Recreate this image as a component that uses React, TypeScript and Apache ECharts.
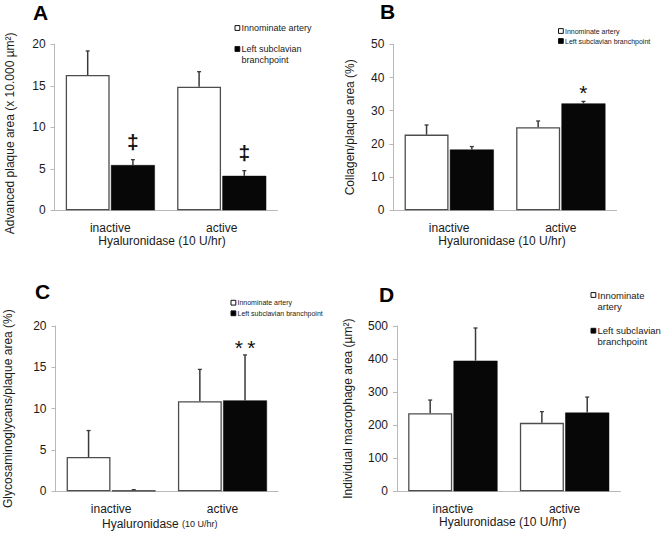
import React, { useEffect, useRef } from "react";
import * as echarts from "echarts";

const categories = ["inactive", "active"];
const seriesNames = ["Innominate artery", "Left subclavian branchpoint"];

// Panel A: Advanced plaque area (x 10.000 µm²)
const aInnominate = [16.3, 14.9];
const aInnominateErr = [2.9, 1.8];
const aLeftSub = [5.45, 4.15];
const aLeftSubErr = [0.65, 0.63];
const aMarks = [[0, 1, 8.4], [1, 1, 7.05]];
const aMarkText = ["‡", "‡"];

// Panel B: Collagen/plaque area (%)
const bInnominate = [22.8, 25.0];
const bInnominateErr = [2.9, 1.9];
const bLeftSub = [18.3, 32.2];
const bLeftSubErr = [0.9, 0.6];
const bMarks = [[1, 1, 37.0]];
const bMarkText = ["*"];

// Panel C: Glycosaminoglycans/plaque area (%)
const cInnominate = [4.15, 10.9];
const cInnominateErr = [3.2, 3.85];
const cLeftSub = [0.1, 11.0];
const cLeftSubErr = [0.1, 5.5];
const cMarks = [[1, 1, 18.0]];
const cMarkText = ["*\u2009*"];

// Panel D: Individual macrophage area (µm²)
const dInnominate = [236, 207];
const dInnominateErr = [40, 34];
const dLeftSub = [395, 238];
const dLeftSubErr = [99, 47];

const FONT = "'Liberation Sans', Arial, Helvetica, sans-serif";
const CAT_GAP = 0.2;
const BAR_GAP = 0.03;
const AXIS_COLOR = "#b8b8b8";
const TEXT_COLOR = "#1a1a1a";

function barOffset(bandWidth: number, barIdx: number) {
  const bw = (bandWidth * (1 - CAT_GAP)) / (2 + BAR_GAP);
  const off = (bw * (1 + BAR_GAP)) / 2;
  return barIdx === 0 ? -off : off;
}

type Panel = {
  grid: { left: number; top: number; width: number; height: number };
  yName: string;
  yNameGap: number;
  yNamePad: number[];
  max: number;
  interval: number;
  white: number[];
  whiteErr: number[];
  black: number[];
  blackErr: number[];
  marks: number[][];
  markText: string[];
  markSize: number;
  markBold: boolean;
  markDy: number;
  xName: string;
  xNamePad: number[];
  xNameGap: number;
};

const panels: Panel[] = [
  {
    grid: { left: 54.6, top: 44.3, width: 222.8, height: 166 },
    yName: "Advanced plaque area (x 10.000 µm²)",
    yNameGap: 39,
    yNamePad: [0, 12, 0, 0],
    max: 20,
    interval: 5,
    white: aInnominate,
    whiteErr: aInnominateErr,
    black: aLeftSub,
    blackErr: aLeftSubErr,
    marks: aMarks,
    markText: aMarkText,
    markSize: 21,
    markBold: true,
    markDy: 1,
    xName: "Hyaluronidase (10 U/hr)",
    xNamePad: [0, 8, 0, 0],
    xNameGap: 23,
  },
  {
    grid: { left: 393.4, top: 44.3, width: 223.2, height: 166 },
    yName: "Collagen/plaque area (%)",
    yNameGap: 37,
    yNamePad: [0, 0, 0, 0],
    max: 50,
    interval: 10,
    white: bInnominate,
    whiteErr: bInnominateErr,
    black: bLeftSub,
    blackErr: bLeftSubErr,
    marks: bMarks,
    markText: bMarkText,
    markSize: 21,
    markBold: false,
    markDy: 4.6,
    xName: "Hyaluronidase (10 U/hr)",
    xNamePad: [0, 6, 0, 0],
    xNameGap: 24,
  },
  {
    grid: { left: 55.5, top: 326, width: 222.6, height: 165.3 },
    yName: "Glycosaminoglycans/plaque area (%)",
    yNameGap: 42,
    yNamePad: [0, 0, 0, 0],
    max: 20,
    interval: 5,
    white: cInnominate,
    whiteErr: cInnominateErr,
    black: cLeftSub,
    blackErr: cLeftSubErr,
    marks: cMarks,
    markText: cMarkText,
    markSize: 21,
    markBold: false,
    markDy: 4.6,
    xName: "{a|Hyaluronidase} {b|(10 U/hr)}",
    xNamePad: [0, 14, 0, 0],
    xNameGap: 27,
  },
  {
    grid: { left: 397, top: 326, width: 223.4, height: 165.3 },
    yName: "Individual macrophage area (µm²)",
    yNameGap: 43,
    yNamePad: [0, 0, 0, 0],
    max: 500,
    interval: 100,
    white: dInnominate,
    whiteErr: dInnominateErr,
    black: dLeftSub,
    blackErr: dLeftSubErr,
    marks: [],
    markText: [],
    markSize: 17,
    markBold: false,
    markDy: 0,
    xName: "Hyaluronidase (10 U/hr)",
    xNamePad: [0, 12, 0, 0],
    xNameGap: 24,
  },
];

function legendItems(
  x: number,
  fontSize: number,
  items: { y: number; fill: string; lines: string[]; lineH: number }[]
) {
  const out: any[] = [];
  items.forEach((it) => {
    out.push({
      type: "rect",
      shape: { x: x, y: it.y - 2.4, width: 4.8, height: 4.8 },
      style: { fill: it.fill, stroke: "#111", lineWidth: 1 },
      silent: true,
    });
    it.lines.forEach((ln, i) => {
      out.push({
        type: "text",
        x: x + 6.5,
        y: it.y + i * it.lineH,
        style: {
          text: ln,
          fontSize,
          fontFamily: FONT,
          fill: TEXT_COLOR,
          align: "left",
          verticalAlign: "middle",
          textAlign: "left",
          textVerticalAlign: "middle",
        },
        silent: true,
      });
    });
  });
  return out;
}

function titleText(t: string, x: number, y: number) {
  return {
    type: "text",
    x,
    y,
    style: {
      text: t,
      fontSize: 21,
      fontWeight: "bold",
      fontFamily: FONT,
      fill: "#000",
      align: "left",
      verticalAlign: "middle",
      textAlign: "left",
      textVerticalAlign: "middle",
    },
    silent: true,
  };
}

export default function App() {
  const ref = useRef<HTMLDivElement>(null);

  useEffect(() => {
    if (!ref.current) return;
    const chart = echarts.init(ref.current, undefined, { renderer: "svg" });

    const grids: any[] = [];
    const xAxes: any[] = [];
    const yAxes: any[] = [];
    const series: any[] = [];

    panels.forEach((p, i) => {
      grids.push({ ...p.grid, containLabel: false });
      xAxes.push({
        type: "category",
        gridIndex: i,
        data: categories,
        axisLine: { show: true, lineStyle: { color: AXIS_COLOR, width: 1 } },
        axisTick: { show: false },
        axisLabel: { color: TEXT_COLOR, fontSize: 12, fontFamily: FONT, margin: 12 },
        name: p.xName,
        nameLocation: "middle",
        nameGap: p.xNameGap,
        nameTextStyle: {
          color: TEXT_COLOR,
          fontSize: 12,
          fontFamily: FONT,
          padding: p.xNamePad,
          rich: {
            a: { fontSize: 12, fontFamily: FONT, color: TEXT_COLOR },
            b: { fontSize: 9, fontFamily: FONT, color: TEXT_COLOR },
          },
        },
      });
      yAxes.push({
        type: "value",
        gridIndex: i,
        min: 0,
        max: p.max,
        interval: p.interval,
        axisLine: { show: true, lineStyle: { color: AXIS_COLOR, width: 1 } },
        axisTick: { show: true, inside: false, length: 4, lineStyle: { color: AXIS_COLOR } },
        splitLine: { show: false },
        axisLabel: { color: TEXT_COLOR, fontSize: 12, fontFamily: FONT, margin: 9 },
        name: p.yName,
        nameLocation: "middle",
        nameGap: p.yNameGap,
        nameTextStyle: {
          color: TEXT_COLOR,
          fontSize: 12,
          fontFamily: FONT,
          padding: p.yNamePad,
        },
      });

      series.push({
        type: "bar",
        name: seriesNames[0],
        xAxisIndex: i,
        yAxisIndex: i,
        data: p.white,
        barCategoryGap: CAT_GAP * 100 + "%",
        barGap: BAR_GAP * 100 + "%",
        itemStyle: { color: "#ffffff", borderColor: "#4d4d4d", borderWidth: 1.3 },
        z: 2,
      });
      series.push({
        type: "bar",
        name: seriesNames[1],
        xAxisIndex: i,
        yAxisIndex: i,
        data: p.black,
        barCategoryGap: CAT_GAP * 100 + "%",
        barGap: BAR_GAP * 100 + "%",
        itemStyle: { color: "#070707", borderColor: "#070707", borderWidth: 0.5 },
        z: 2,
      });

      const errData: number[][] = [];
      p.white.forEach((v, k) => errData.push([k, 0, v, p.whiteErr[k]]));
      p.black.forEach((v, k) => errData.push([k, 1, v, p.blackErr[k]]));
      series.push({
        type: "custom",
        name: "err" + i,
        xAxisIndex: i,
        yAxisIndex: i,
        data: errData,
        encode: { x: 0, y: 2 },
        z: 4,
        silent: true,
        renderItem: (params: any, api: any) => {
          const cat = api.value(0);
          const bi = api.value(1);
          const v = api.value(2);
          const e = api.value(3);
          const base = api.coord([cat, v]);
          const top = api.coord([cat, v + e]);
          const band = api.size([1, 0])[0];
          const x = base[0] + barOffset(band, bi);
          return {
            type: "group",
            children: [
              {
                type: "line",
                shape: { x1: x, y1: base[1], x2: x, y2: top[1] },
                style: { stroke: "#3a3a3a", lineWidth: 1.5 },
              },
              {
                type: "line",
                shape: { x1: x - 2, y1: top[1], x2: x + 2, y2: top[1] },
                style: { stroke: "#3a3a3a", lineWidth: 1.3 },
              },
            ],
          };
        },
      });

      if (p.marks.length) {
        series.push({
          type: "custom",
          name: "mark" + i,
          xAxisIndex: i,
          yAxisIndex: i,
          data: p.marks,
          encode: { x: 0, y: 2 },
          z: 5,
          silent: true,
          renderItem: (params: any, api: any) => {
            const cat = api.value(0);
            const bi = api.value(1);
            const y = api.value(2);
            const pt = api.coord([cat, y]);
            const band = api.size([1, 0])[0];
            return {
              type: "text",
              x: pt[0] + barOffset(band, bi),
              y: pt[1] + p.markDy,
              style: {
                text: p.markText[params.dataIndex],
                fontSize: p.markSize,
                fontWeight: p.markBold ? "bold" : "normal",
                fontFamily: FONT,
                fill: "#111",
                align: "center",
                verticalAlign: "middle",
              },
            };
          },
        });
      }
    });

    const graphic: any[] = [
      titleText("A", 33, 12.5),
      titleText("B", 380, 11.5),
      titleText("C", 35, 291.5),
      titleText("D", 379, 294.5),
      ...legendItems(235, 9, [
        { y: 28, fill: "#fff", lines: ["Innominate artery"], lineH: 10 },
        { y: 49, fill: "#000", lines: ["Left subclavian", "branchpoint"], lineH: 10.5 },
      ]),
      ...legendItems(558.5, 7, [
        { y: 31, fill: "#fff", lines: ["Innominate artery"], lineH: 9 },
        { y: 41, fill: "#000", lines: ["Left subclavian branchpoint"], lineH: 9 },
      ]),
      ...legendItems(231, 7, [
        { y: 302.7, fill: "#fff", lines: ["Innominate artery"], lineH: 9 },
        { y: 313.3, fill: "#000", lines: ["Left subclavian branchpoint"], lineH: 9 },
      ]),
      ...legendItems(591, 9.5, [
        { y: 295, fill: "#fff", lines: ["Innominate", "artery"], lineH: 11.5 },
        { y: 330.7, fill: "#000", lines: ["Left subclavian", "branchpoint"], lineH: 11 },
      ]),
    ];

    chart.setOption({
      animation: false,
      backgroundColor: "#ffffff",
      textStyle: { fontFamily: FONT },
      grid: grids,
      xAxis: xAxes,
      yAxis: yAxes,
      series,
      graphic,
    });

    return () => chart.dispose();
  }, []);

  return (
    <div
      ref={ref}
      style={{ position: "fixed", left: 0, top: 0, width: 662, height: 533, background: "#fff" }}
    />
  );
}
